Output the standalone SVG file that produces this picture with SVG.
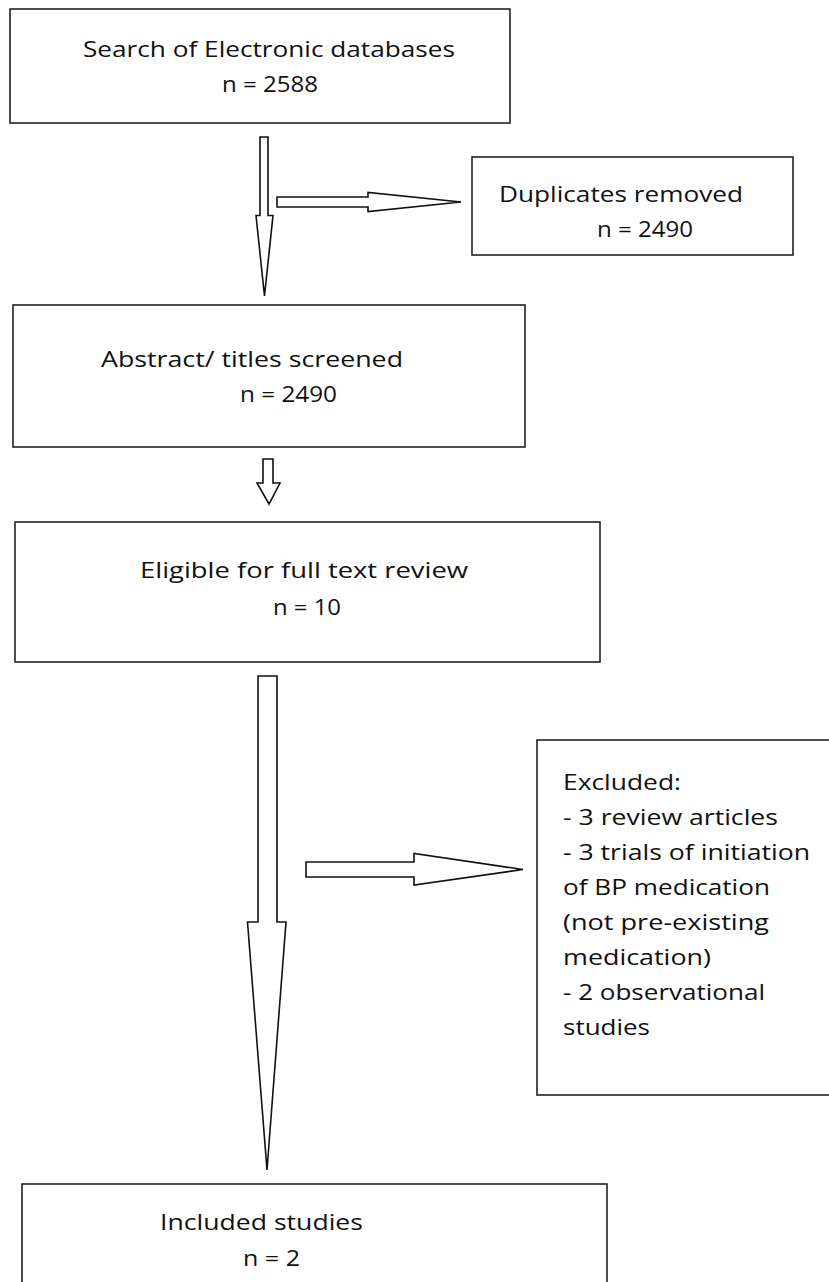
<svg xmlns="http://www.w3.org/2000/svg" width="829" height="1282" viewBox="0 0 829 1282">
<style>
.box{fill:#fff;stroke:#222;stroke-width:1.6}
.arr{fill:#fff;stroke:#111;stroke-width:1.6;stroke-linejoin:miter}
text{font-family:"Open Sans","Noto Sans","DejaVu Sans",sans-serif;font-size:22px;fill:#111}
</style>
<rect width="829" height="1282" fill="#fff"/>
<g id="connectors">
<polygon class="arr" points="260,137 268,137 268,215.5 273,215.5 264.5,296 256,215.5 260,215.5"/>
<polygon class="arr" points="277,197 368,197 368,192.5 461,202 368,211.5 368,207 277,207"/>
<polygon class="arr" points="263,459 273,459 273,483 280,483 269,504 257,483 263,483"/>
<polygon class="arr" points="258,676 277,676 277,922 286,922 267,1170 247.5,922 258,922"/>
<polygon class="arr" points="306,862 414,862 414,853.5 523,869.5 414,885 414,877 306,877"/>
</g>
<g id="search">
<rect class="box" x="10" y="9" width="500" height="114"/>
<text x="83" y="57" textLength="372" lengthAdjust="spacingAndGlyphs">Search of Electronic databases</text>
<text x="222" y="92" textLength="96" lengthAdjust="spacingAndGlyphs">n = 2588</text>
</g>
<g id="duplicates">
<rect class="box" x="472" y="157" width="321" height="98"/>
<text x="499" y="202" textLength="244" lengthAdjust="spacingAndGlyphs">Duplicates removed</text>
<text x="597" y="237" textLength="96" lengthAdjust="spacingAndGlyphs">n = 2490</text>
</g>
<g id="screened">
<rect class="box" x="13" y="305" width="512" height="142"/>
<text x="101" y="367" textLength="302" lengthAdjust="spacingAndGlyphs">Abstract/ titles screened</text>
<text x="240" y="402" textLength="97" lengthAdjust="spacingAndGlyphs">n = 2490</text>
</g>
<g id="eligible">
<rect class="box" x="15" y="522" width="585" height="140"/>
<text x="140" y="578" textLength="328" lengthAdjust="spacingAndGlyphs">Eligible for full text review</text>
<text x="273" y="615" textLength="68" lengthAdjust="spacingAndGlyphs">n = 10</text>
</g>
<g id="excluded">
<rect class="box" x="537" y="740" width="310" height="355"/>
<text x="563" y="790" textLength="118" lengthAdjust="spacingAndGlyphs">Excluded:</text>
<text x="563" y="825" textLength="215" lengthAdjust="spacingAndGlyphs">- 3 review articles</text>
<text x="563" y="860" textLength="247" lengthAdjust="spacingAndGlyphs">- 3 trials of initiation</text>
<text x="563" y="895" textLength="207" lengthAdjust="spacingAndGlyphs">of BP medication</text>
<text x="563" y="930" textLength="206" lengthAdjust="spacingAndGlyphs">(not pre-existing</text>
<text x="563" y="965" textLength="148" lengthAdjust="spacingAndGlyphs">medication)</text>
<text x="563" y="1000" textLength="202" lengthAdjust="spacingAndGlyphs">- 2 observational</text>
<text x="563" y="1035" textLength="87" lengthAdjust="spacingAndGlyphs">studies</text>
</g>
<g id="included">
<rect class="box" x="22" y="1184" width="585" height="120"/>
<text x="160" y="1230" textLength="203" lengthAdjust="spacingAndGlyphs">Included studies</text>
<text x="243" y="1266" textLength="57" lengthAdjust="spacingAndGlyphs">n = 2</text>
</g>
</svg>
